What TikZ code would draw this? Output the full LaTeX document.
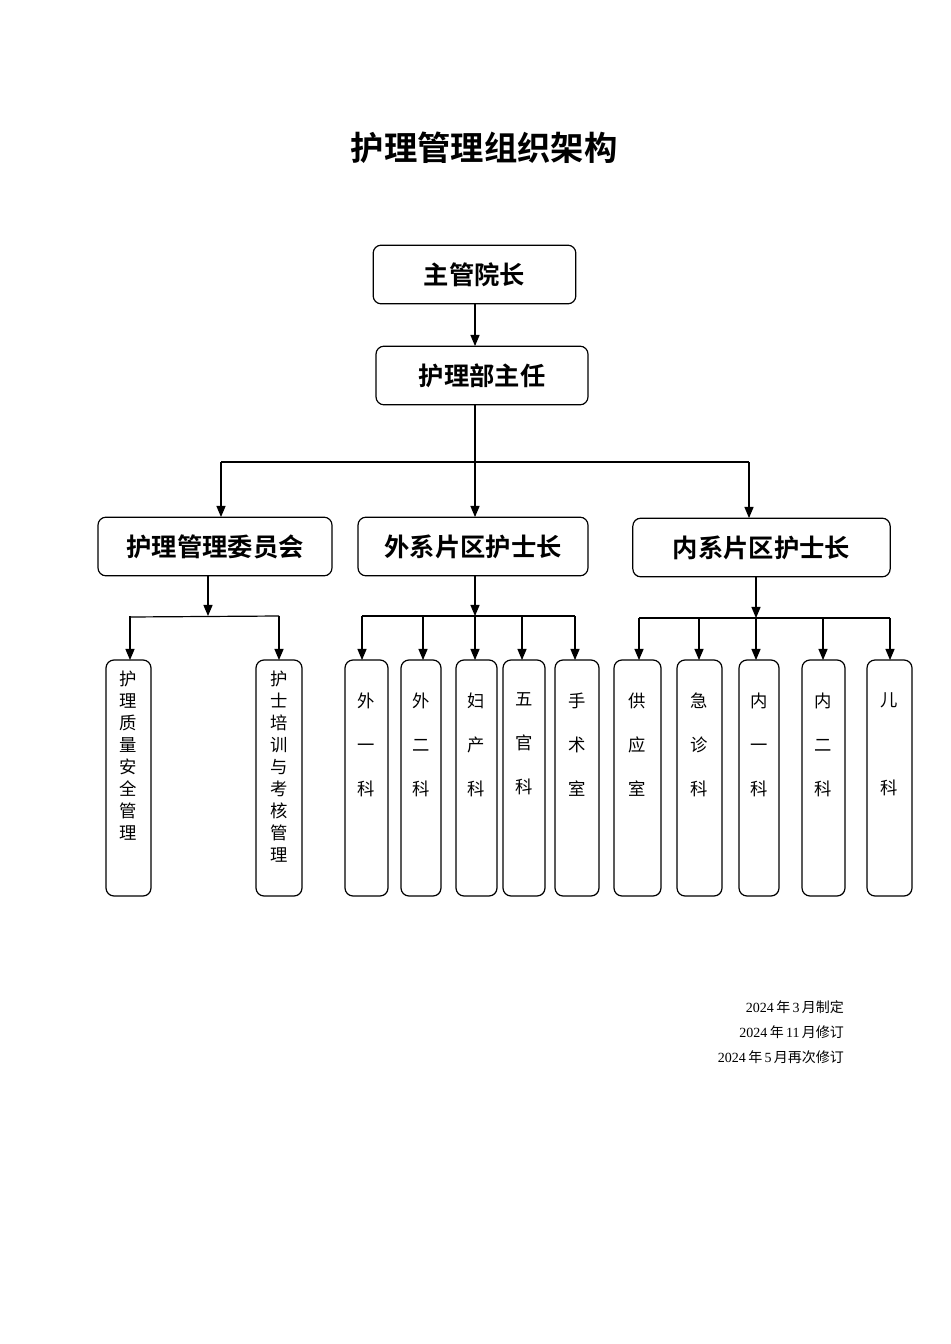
\documentclass[tikz,border=0pt]{standalone}
\usepackage{fontspec}
\setmainfont{Liberation Serif}
\newfontfamily\cjk{Noto Sans CJK SC}
\newfontfamily\cjkb{Noto Sans CJK SC Bold}
\usetikzlibrary{positioning,arrows}
\tikzset{
  box/.style={draw,rounded corners=6pt,line width=0.9pt,inner sep=0pt},
  head/.style={font=\cjkb\fontsize{19}{19}\selectfont},
  leaf/.style={draw,rounded corners=6pt,line width=0.9pt,inner sep=0pt},
  col/.style={font=\cjk\fontsize{13}{16.5}\selectfont,align=center,anchor=north,inner sep=0pt},
}
\begin{document}
\begin{tikzpicture}[x=0.75pt,y=-0.75pt,->,>=triangle 45,line width=0.9pt]
  \useasboundingbox (0,0) rectangle (950,1344);
  \node[font=\cjkb\fontsize{25}{25}\selectfont] (title) at (484,148) {护理管理组织架构};

  % top levels
  \node[box,minimum width=152pt,minimum height=44pt] (dean) at (474.5,274.5) {};
  \node[head] at (dean) {主管院长};
  \node[box,minimum width=159pt,minimum height=44pt] (chief) at (482,375.5) {};
  \node[head] at (chief) {护理部主任};
  \draw (475,304) -- (475,346);

  % second level
  \node[box,minimum width=175.5pt,minimum height=44pt] (comm) at (215,546.5) {};
  \node[head] at (comm) {护理管理委员会};
  \node[box,minimum width=172.5pt,minimum height=44pt] (outer) at (473,546.5) {};
  \node[head] at (outer) {外系片区护士长};
  \node[box,minimum width=193pt,minimum height=44pt] (inner) at (761.5,547.5) {};
  \node[head] at (inner) {内系片区护士长};
  \draw[-] (475,405) -- (475,462) coordinate (split);
  \draw[-] (221,462) -- (749,462);
  \draw (221,462) -- (221,517);
  \draw (split) -- (475,517);
  \draw (749,462) -- (749,518);

  % leaf boxes
  \foreach \name/\xa/\xb in {qual/106/151, train/256/302, wa/345/388, wb/401/441,
      fu/456/497, wg/503/545, ss/555/599, gy/614/661, jz/677/722, na/739/779,
      nb/802/845, ek/867/912}
    \draw[-,rounded corners=6pt] (\xa,660) rectangle (\xb,896);

  \foreach \x/\t in {128.5/{护\\理\\质\\量\\安\\全\\管\\理}, 279/{护\\士\\培\\训\\与\\考\\核\\管\\理}}
    \node[col] at (\x,670) {\t};
  \foreach \x/\t in {366.5/{外\\一\\科}, 421/{外\\二\\科}, 476.5/{妇\\产\\科}, 524/{五\\官\\科},
      577/{手\\术\\室}, 637.5/{供\\应\\室}, 699.5/{急\\诊\\科}, 759/{内\\一\\科}, 823.5/{内\\二\\科}}
    \node[col,font=\cjk\fontsize{13}{33}\selectfont] at (\x,692) {\t};
  \node[col,font=\cjk\fontsize{13}{66}\selectfont] at (889.5,692) {儿\\科};

  % branches
  \draw (208,576) -- (208,616);
  \draw[-] (130,617) -- (279,616);
  \foreach \x in {130,279} \draw (\x,616) -- (\x,660);
  \draw (475,576) -- (475,616);
  \draw[-] (362,616) -- (575,616);
  \foreach \x in {362,423,475,522,575} \draw (\x,616) -- (\x,660);
  \draw (756,577) -- (756,618);
  \draw[-] (639,618) -- (890,618);
  \foreach \x in {639,699,756,823,890} \draw (\x,618) -- (\x,660);

  % dates
  \node[anchor=east,align=right,font=\cjk\fontsize{10.5}{18.5}\selectfont] (dates) at (849,1032)
    {\fontspec{Liberation Serif}2024\,\cjk 年\,\fontspec{Liberation Serif}3\,\cjk 月制定\\
     \fontspec{Liberation Serif}2024\,\cjk 年\,\fontspec{Liberation Serif}11\,\cjk 月修订\\
     \fontspec{Liberation Serif}2024\,\cjk 年\,\fontspec{Liberation Serif}5\,\cjk 月再次修订};
\end{tikzpicture}
\end{document}
